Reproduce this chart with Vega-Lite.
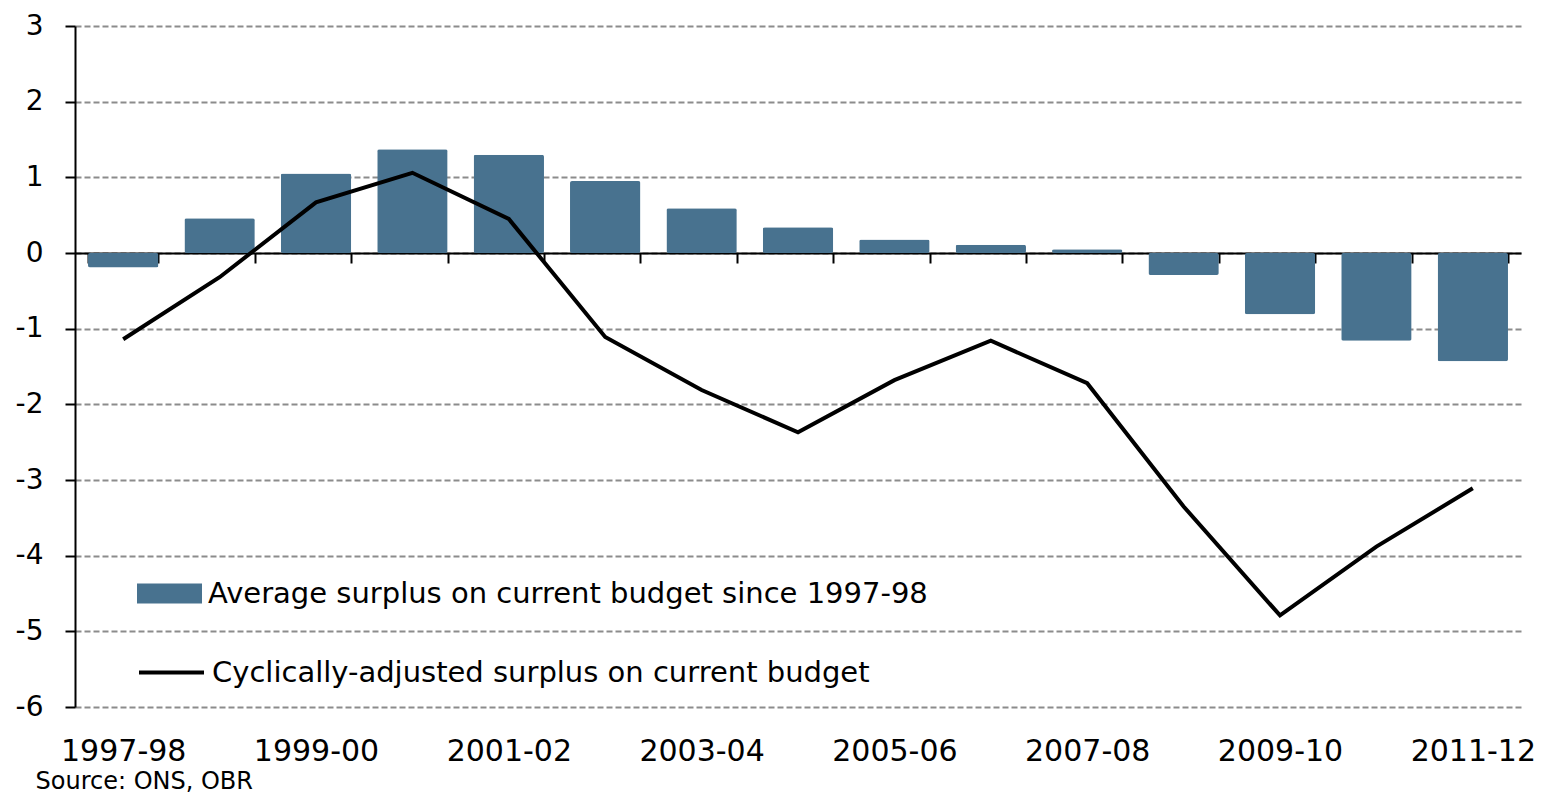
{
  "$schema": "https://vega.github.io/schema/vega-lite/v6.json",
  "width": 1446,
  "height": 681,
  "autosize": {"type": "none"},
  "padding": {"left": 75, "top": 26, "right": 22, "bottom": 88},
  "background": "white",
  "data": {
    "values": [
      {"year": "1997-98", "avg": -0.19, "cycl": -1.14},
      {"year": "1998-99", "avg": 0.46, "cycl": -0.32},
      {"year": "1999-00", "avg": 1.05, "cycl": 0.67},
      {"year": "2000-01", "avg": 1.37, "cycl": 1.06},
      {"year": "2001-02", "avg": 1.30, "cycl": 0.45},
      {"year": "2002-03", "avg": 0.95, "cycl": -1.11},
      {"year": "2003-04", "avg": 0.59, "cycl": -1.81},
      {"year": "2004-05", "avg": 0.34, "cycl": -2.37},
      {"year": "2005-06", "avg": 0.18, "cycl": -1.68},
      {"year": "2006-07", "avg": 0.11, "cycl": -1.16},
      {"year": "2007-08", "avg": 0.05, "cycl": -1.72},
      {"year": "2008-09", "avg": -0.29, "cycl": -3.35},
      {"year": "2009-10", "avg": -0.81, "cycl": -4.79},
      {"year": "2010-11", "avg": -1.16, "cycl": -3.88},
      {"year": "2011-12", "avg": -1.43, "cycl": -3.11}
    ]
  },
  "encoding": {
    "x": {
      "field": "year",
      "type": "nominal",
      "sort": null,
      "title": "Source: ONS, OBR",
      "scale": {"paddingInner": 0.27, "paddingOuter": 0.135}
    }
  },
  "layer": [
    {
      "mark": {"type": "bar", "cornerRadius": 2},
      "encoding": {
        "y": {
          "field": "avg",
          "type": "quantitative",
          "title": null,
          "scale": {"domain": [-6, 3], "nice": false}
        },
        "fill": {
          "datum": "Average surplus on current budget since 1997-98",
          "type": "nominal",
          "scale": {"range": ["#48728F"]},
          "legend": {
            "orient": "none",
            "legendX": 62,
            "legendY": 535,
            "title": null,
            "padding": 0,
            "symbolType": "M-1,-0.31H1V0.31H-1Z",
            "symbolSize": 4225,
            "symbolStrokeWidth": 0,
            "symbolOpacity": 1,
            "labelFont": "DejaVu Sans",
            "labelFontSize": 29,
            "labelColor": "black",
            "labelOffset": 6,
            "labelLimit": 1200
          }
        }
      }
    },
    {
      "mark": {"type": "line", "strokeWidth": 4},
      "encoding": {
        "y": {"field": "cycl", "type": "quantitative", "title": null},
        "stroke": {
          "datum": "Cyclically-adjusted surplus on current budget",
          "type": "nominal",
          "scale": {"range": ["black"]},
          "legend": {
            "orient": "none",
            "legendX": 62,
            "legendY": 612,
            "title": null,
            "padding": 0,
            "symbolType": "stroke",
            "symbolSize": 4225,
            "symbolStrokeWidth": 4,
            "labelFont": "DejaVu Sans",
            "labelFontSize": 29,
            "labelColor": "black",
            "labelOffset": 6,
            "labelLimit": 1200
          }
        }
      }
    }
  ],
  "config": {
    "view": {"stroke": null},
    "axis": {
      "labelFont": "DejaVu Sans",
      "labelColor": "black",
      "domainColor": "black",
      "tickColor": "black",
      "domainWidth": 2,
      "tickWidth": 2,
      "titleFont": "DejaVu Sans",
      "titleColor": "black"
    },
    "axisY": {
      "grid": true,
      "gridColor": "#8c8c8c",
      "gridDash": [6, 3],
      "gridWidth": 2,
      "tickSize": 10,
      "tickCount": 9,
      "labelFontSize": 28,
      "labelPadding": 22,
      "labelExpr": "replace(datum.label, '\u2212', '-')"
    },
    "axisX": {
      "grid": false,
      "offset": -454,
      "tickBand": "extent",
      "tickSize": 10,
      "labelAngle": 0,
      "labelFontSize": 30,
      "labelPadding": 473,
      "labelBaseline": "top",
      "labelOverlap": false,
      "labelExpr": "toNumber(substring(datum.label,0,4)) % 2 == 1 ? datum.label : ''",
      "titleX": -40,
      "titleY": 535,
      "titleAlign": "left",
      "titleAnchor": null,
      "titleBaseline": "alphabetic",
      "titleFontSize": 24,
      "titleFontWeight": "normal"
    }
  }
}
